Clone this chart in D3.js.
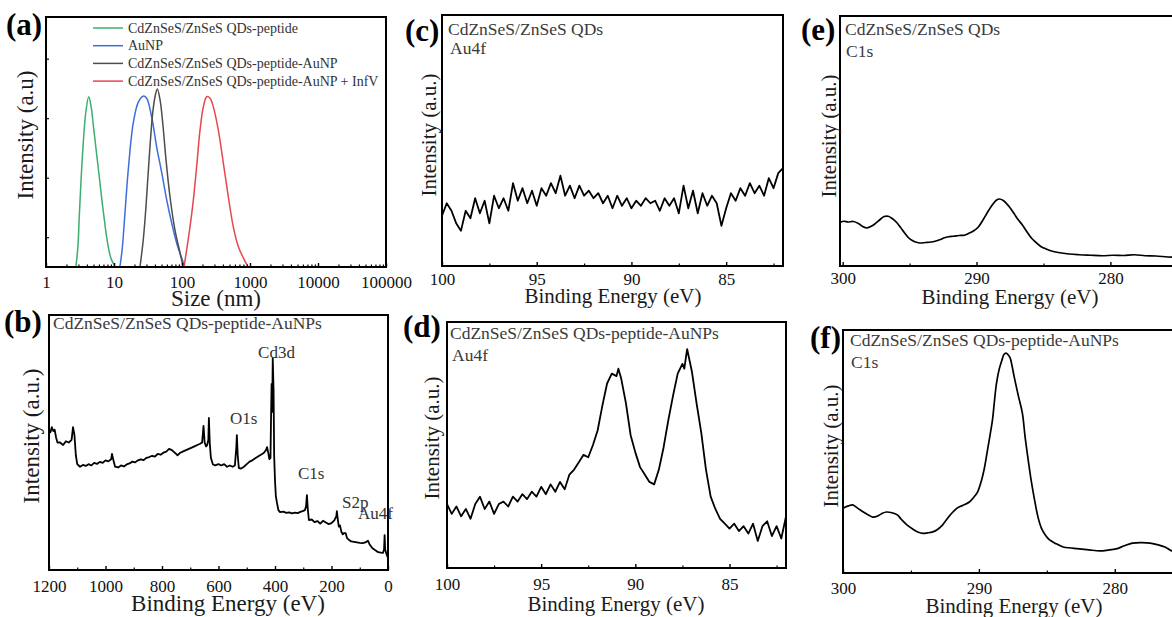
<!DOCTYPE html>
<html>
<head>
<meta charset="utf-8">
<script src="https://cdn.jsdelivr.net/npm/d3@7"></script>
<style>
  body { margin: 0; background: #fff; }
  svg { display: block; }
  svg text { font-family: "Liberation Serif", "Times New Roman", serif; }
</style>
</head>
<body>
<div id="fig"></div>
<script>
// ---- (a) DLS size distribution: [size (nm), intensity]
const dlsNames = ['CdZnSeS/ZnSeS QDs-peptide', 'AuNP', 'CdZnSeS/ZnSeS QDs-peptide-AuNP', 'CdZnSeS/ZnSeS QDs-peptide-AuNP + InfV'];
const dlsColors = ['#3dae70', '#3d6fdb', '#4d4d4d', '#e8454f'];
const dlsQD = [[2.75,0],[2.95,3.5],[3.1,9],[3.45,19],[3.85,26],[4.25,28.6],[4.6,27],[5.0,23.5],[5.55,19],[6.1,15],[6.6,11.5],[7.2,8],[7.8,5],[8.5,2.6],[9.2,1.2],[10.5,0]];
const dlsAu = [[12.2,0],[13.2,3],[14.5,9.1],[16.2,16.3],[19.2,24.2],[22.8,27.7],[26.9,28.7],[30.1,28.4],[35.8,25.2],[42.4,20.2],[50.4,15.8],[59.5,11.3],[70.5,7.4],[83.6,4],[98.9,1.5],[110,0]];
const dlsQDAu = [[24.1,0],[26.9,4.5],[29.5,10.1],[33,18.5],[37.1,25.9],[40.1,28.6],[43.3,29.9],[47.5,28.1],[52.1,24.2],[58.2,18],[66.6,11.8],[78.8,6.2],[93.5,2.4],[104,0]];
const dlsInfV = [[107,0],[123,4.5],[143,10.1],[164,16.8],[184,23],[206,26.9],[231,28.6],[257,28.4],[289,26.9],[342,23],[405,17.5],[480,11.8],[569,6.7],[675,3.4],[800,1.5],[941,0]];
const sizeTicks = [1, 10, 100, 1000, 10000, 100000];

// ---- (b) survey XPS: [binding energy (eV), intensity]
const survey = [[1200,55],[1195,54],[1190,56],[1185,54.5],[1180,55],[1175,52],[1170,50],[1161,50],[1150,49],[1140,50.5],[1130,50],[1120,51],[1115,56],[1110,53],[1105,45],[1100,41.5],[1090,40.5],[1080,41.2],[1070,40.8],[1060,41.5],[1050,41],[1040,42],[1030,41.6],[1020,42.4],[1010,42],[1000,43],[990,42.6],[980,43.4],[977,45.5],[972,43],[966,40.5],[955,40.2],[945,41],[935,40.6],[925,41.4],[915,41.8],[905,42.5],[895,42.2],[885,43],[875,43.4],[865,43.1],[855,44],[845,44.3],[835,44.8],[825,44.5],[815,45.5],[805,45.2],[795,46],[785,46.4],[775,47.5],[765,47],[755,46],[745,45],[735,46],[725,46.5],[715,47],[705,47.5],[695,48],[685,48.5],[675,49],[665,49.5],[658,50],[653,56.5],[649,50],[644,48.5],[640,49],[636,51],[634,59.6],[631,50],[627,44],[620,41.5],[612,41],[600,41.5],[590,41],[580,41.5],[570,40.5],[560,41],[550,40.5],[542,41],[537,48],[535,52.9],[532,45],[528,40],[520,39.8],[510,40.5],[500,41.5],[490,42.5],[480,43],[470,43.8],[460,44.5],[450,45.2],[440,45.9],[432,47],[428,48.2],[424,46],[420,43.5],[416,44],[414,60],[412,73],[410,62],[408,83],[405,70],[403,45],[400,35],[397,29],[393,26.3],[388,23.5],[382,22.7],[370,22.9],[360,22.4],[350,22.6],[340,22.2],[330,22.5],[320,22.3],[310,22.8],[300,23.2],[294,23.5],[290,25],[287,29.4],[284,24],[280,19.6],[270,19.8],[260,18.8],[250,19.2],[240,18.2],[230,19.3],[220,18.6],[210,18],[200,18.4],[190,19.5],[183,21],[181,23.1],[178,20],[174,17],[170,17.5],[165,15],[160,14],[155,14.5],[150,14.5],[145,12.5],[140,12],[130,11.2],[120,11],[110,10.8],[100,10.6],[90,10.5],[80,10.8],[71,11.5],[65,10],[55,8.5],[46,7.8],[35,7],[25,6.8],[18,6.7],[14,8],[12,13.7],[10,8],[6,6.5],[3,5.5],[0,4.7]];
const surveyTicks = [1200, 1000, 800, 600, 400, 200, 0];
const surveyMinor = [1100, 900, 700, 500, 300, 100];
const surveyPeaks = [
  { name: 'Cd3d', e: 460, v: 83 },
  { name: 'O1s', e: 559, v: 57.3 },
  { name: 'C1s', e: 319, v: 35.7 },
  { name: 'S2p', e: 163, v: 24.3 },
  { name: 'Au4f', e: 106, v: 20 }
];

// ---- (c) Au4f of bare QDs
const au4fQD = [[100,20],[99.75,25],[99.5,22],[99.25,17],[99,14],[98.75,22],[98.5,19],[98.25,27],[98,21],[97.75,26],[97.5,17],[97.25,28],[97,23],[96.75,27],[96.5,22],[96.25,33],[96,26],[95.75,31],[95.5,25],[95.25,30],[95,24],[94.75,31],[94.5,28],[94.25,33],[94,29],[93.75,36],[93.5,28],[93.25,32],[93,27],[92.75,32],[92.5,28],[92.25,30],[92,27],[91.75,29],[91.5,25],[91.25,28],[91,23],[90.75,28],[90.5,24],[90.25,27],[90,23],[89.75,26],[89.5,24],[89.25,27],[89,25],[88.75,26],[88.5,22],[88.25,27],[88,24],[87.75,27],[87.5,21],[87.25,32],[87,23],[86.75,30],[86.5,21],[86.25,29],[86,24],[85.75,28],[85.5,25],[85.25,16],[85,23],[84.75,29],[84.5,26],[84.25,31],[84,28],[83.75,33],[83.5,29],[83.25,32],[83,28],[82.75,35],[82.5,31],[82.25,37],[82,39]];

// ---- (d) Au4f of QDs-peptide-AuNPs
const au4fQDAu = [[100,26],[99.75,22],[99.5,25],[99.25,21],[99,24],[98.75,20],[98.5,26],[98.25,29],[98,24],[97.75,27],[97.5,22],[97.25,26],[97,27],[96.75,25],[96.5,29],[96.25,27],[96,30],[95.75,28],[95.5,31],[95.25,29],[95,33],[94.75,30],[94.5,34],[94.25,31],[94,35],[93.75,32],[93.5,38],[93.25,40],[93,43],[92.75,46],[92.5,45],[92.25,50],[92,56],[91.75,66],[91.5,75],[91.25,79],[91,78],[90.9,81],[90.75,77],[90.5,67],[90.25,54],[90,47],[89.75,41],[89.5,38],[89.25,35],[89,34],[88.75,40],[88.5,49],[88.25,60],[88,70],[87.75,79],[87.5,83],[87.4,81],[87.25,89],[87,80],[86.75,67],[86.5,55],[86.25,40],[86,29],[85.75,24],[85.5,20],[85.25,18],[85,16],[84.75,18],[84.5,15],[84.25,17],[84,14],[83.75,18],[83.5,11],[83.25,17],[83,19],[82.75,13],[82.5,17],[82.25,12],[82,21]];
const au4fTicks = [100, 95, 90, 85];
const au4fMinor = [97.5, 92.5, 87.5, 82.5];

// ---- (e) C1s of bare QDs
const c1sQD = [[300.2,17.4],[299.9,17.9],[299.6,17.6],[299.2,17.8],[298.8,16.9],[298.5,15.8],[298.2,15.2],[297.9,15.8],[297.6,16.8],[297.2,18.6],[296.9,19.8],[296.6,19.9],[296.3,19],[296,17.6],[295.7,15.6],[295.4,13.4],[295.1,11.4],[294.8,10.2],[294.5,9.5],[294.2,9.2],[293.8,9.4],[293.4,9.6],[293.1,9.9],[292.7,10.6],[292.4,11.3],[292.1,11.7],[291.7,11.9],[291.3,12.2],[290.9,12.3],[290.6,13],[290.3,13.8],[289.9,15.4],[289.5,18.6],[289.1,22.2],[288.8,24.6],[288.5,26.4],[288.3,26.8],[288,26.2],[287.6,24],[287.2,21],[286.9,18.6],[286.6,16.6],[286.2,13.4],[285.9,11.2],[285.6,9.6],[285.2,7.8],[284.8,6.8],[284.4,6],[283.9,5.4],[283.1,4.8],[282.3,4.5],[281.5,4.3],[280.6,4.1],[279.8,4.3],[279,4.2],[278.2,4.5],[277.4,4.1],[276.6,4],[275.7,3.6],[274.8,3.4]];

// ---- (f) C1s of QDs-peptide-AuNPs
const c1sQDAu = [[300,26.7],[299.6,27.6],[299.3,28],[298.9,26.6],[298.5,25.1],[298.1,23.8],[297.8,23],[297.4,23.6],[297.1,24.6],[296.8,25.1],[296.4,24.8],[296,23.9],[295.7,22],[295.3,19.8],[294.9,18.2],[294.5,16.9],[294.1,16.3],[293.8,16.5],[293.4,16.9],[293.1,17.7],[292.7,19.6],[292.4,21.8],[292,24.6],[291.6,26.7],[291.2,27.8],[290.7,29.2],[290.4,31],[290.1,33.3],[289.8,38.3],[289.6,43],[289.4,49.4],[289.2,56],[289,63],[288.85,71],[288.7,78.2],[288.5,84],[288.3,87.7],[288.15,90],[288,90.5],[287.85,89.8],[287.7,88.5],[287.55,85],[287.4,80.7],[287.1,73],[286.8,65.8],[286.6,56],[286.4,47.7],[286.15,38],[285.9,30],[285.65,23],[285.4,18.5],[285.1,15.5],[284.8,13.6],[284.3,12],[283.8,10.7],[283.2,10.3],[282.6,9.9],[281.9,9.5],[281.1,9.1],[280.5,9.4],[279.9,9.9],[279.3,11.2],[278.7,12.3],[278,12.5],[277.4,12.3],[276.8,11.6],[276.3,10.7],[275.8,9.1],[275.2,8.8]];
const c1sTicks = [300, 290, 280];
const c1sMinor = [295, 285];

const FONT = '"Liberation Serif", "Times New Roman", serif';
const svg = d3.select('#fig').append('svg')
  .attr('width', 1172)
  .attr('height', 617);

function drawPanel(p) {
  const [L, T, R, B] = p.box;
  const x = (p.log ? d3.scaleLog() : d3.scaleLinear()).domain(p.xDomain).range([L, R]);
  const y = d3.scaleLinear().domain(p.yDomain).range([B, T]);
  const g = svg.append('g');

  const clipId = 'clip-' + p.id;
  svg.append('clipPath').attr('id', clipId).append('rect')
    .attr('x', L).attr('y', T).attr('width', R - L).attr('height', B - T);

  const line = d3.line()
    .x(d => x(d[0]))
    .y(d => y(d[1]))
    .curve(p.curve || d3.curveLinear);

  p.series.forEach(s => {
    g.append('path')
      .datum(s.data)
      .attr('clip-path', `url(#${clipId})`)
      .attr('fill', 'none')
      .attr('stroke', s.color)
      .attr('stroke-width', s.width || 1.7)
      .attr('stroke-linejoin', 'round')
      .attr('d', line);
  });

  // bottom axis, ticks pointing inward
  const xa = g.append('g')
    .attr('transform', `translate(0,${B})`)
    .call(d3.axisBottom(x).tickValues(p.ticks).tickFormat(d3.format('d'))
      .tickSizeInner(-4).tickSizeOuter(0).tickPadding(p.pad));
  xa.select('.domain').remove();
  xa.attr('font-size', null).attr('font-family', null);
  xa.selectAll('text')
    .style('font-family', FONT)
    .style('font-size', '17px')
    .attr('fill', '#111');
  xa.selectAll('line').attr('stroke-width', 1.4);

  if (p.minor) {
    const xm = g.append('g')
      .attr('transform', `translate(0,${B})`)
      .call(d3.axisBottom(x).tickValues(p.minor).tickFormat('')
        .tickSizeInner(-2.5).tickSizeOuter(0));
    xm.select('.domain').remove();
    xm.selectAll('line').attr('stroke-width', 1.2);
  }

  if (p.yTicks) {
    const ya = g.append('g')
      .attr('transform', `translate(${L},0)`)
      .call(d3.axisLeft(y).tickValues(p.yTicks).tickFormat('')
        .tickSizeInner(-3).tickSizeOuter(0));
    ya.select('.domain').remove();
    ya.selectAll('line').attr('stroke-width', 1.2);
  }

  // frame
  g.append('rect')
    .attr('x', L).attr('y', T)
    .attr('width', R - L).attr('height', B - T)
    .attr('fill', 'none')
    .attr('stroke', '#000')
    .attr('stroke-width', 2);

  // titles
  g.append('text')
    .attr('x', p.xTitle[0]).attr('y', p.xTitle[1])
    .attr('text-anchor', 'middle')
    .attr('font-size', p.titleSize)
    .attr('fill', '#1a1a1a')
    .text(p.xLabel);

  g.append('text')
    .attr('transform', `translate(${p.yTitle[0]},${p.yTitle[1]}) rotate(-90)`)
    .attr('text-anchor', 'middle')
    .attr('font-size', p.titleSize)
    .attr('fill', '#1a1a1a')
    .text(p.yLabel);

  g.append('text')
    .attr('x', p.tag[0]).attr('y', p.tag[1])
    .attr('font-size', 31)
    .attr('font-weight', 'bold')
    .attr('fill', '#000')
    .text(p.tagText);

  (p.notes || []).forEach(n => {
    g.append('text')
      .attr('x', n[0]).attr('y', n[1])
      .attr('font-size', 17.5)
      .attr('fill', '#3a3a3a')
      .text(n[2]);
  });

  return { g, x, y };
}

// (a)
const pa = drawPanel({
  id: 'a', box: [46, 17, 386, 267], log: true,
  xDomain: [1, 100000], yDomain: [0, 42],
  ticks: sizeTicks,
  minor: d3.range(0, 5).flatMap(k => [2,3,4,5,6,7,8,9].map(m => m * Math.pow(10, k))),
  yTicks: [5, 15, 25, 35],
  pad: 9, curve: d3.curveCatmullRom,
  series: [dlsQD, dlsAu, dlsQDAu, dlsInfV].map((d, i) => ({ data: d, color: dlsColors[i], width: 1.5 })),
  xLabel: 'Size (nm)', xTitle: [216, 306],
  yLabel: 'Intensity (a.u)', yTitle: [33, 135], titleSize: 23,
  tag: [6, 35], tagText: '(a)'
});

// legend for (a)
const legend = pa.g.append('g');
dlsNames.forEach((name, i) => {
  const yy = 28 + i * 17.7;
  legend.append('line')
    .attr('x1', 93).attr('x2', 123).attr('y1', yy).attr('y2', yy)
    .attr('stroke', dlsColors[i]).attr('stroke-width', 1.5);
  legend.append('text')
    .attr('x', 128).attr('y', yy + 4.5)
    .attr('font-size', 14)
    .attr('fill', '#333')
    .text(name);
});

// (b)
const pb = drawPanel({
  id: 'b', box: [49, 315, 388, 570],
  xDomain: [1200, 0], yDomain: [0, 100],
  ticks: surveyTicks, minor: surveyMinor, pad: 10,
  series: [{ data: survey, color: '#000', width: 1.8 }],
  xLabel: 'Binding Energy (eV)', xTitle: [228, 611],
  yLabel: 'Intensity (a.u.)', yTitle: [39, 436], titleSize: 23,
  tag: [4, 332], tagText: '(b)',
  notes: [[53, 329, 'CdZnSeS/ZnSeS QDs-peptide-AuNPs']]
});
surveyPeaks.forEach(pk => {
  pb.g.append('text')
    .attr('x', pb.x(pk.e)).attr('y', pb.y(pk.v))
    .attr('font-size', 17)
    .attr('fill', '#333')
    .text(pk.name);
});

// (c)
drawPanel({
  id: 'c', box: [442, 15, 783, 266],
  xDomain: [100, 82], yDomain: [0, 100],
  ticks: au4fTicks, minor: au4fMinor, pad: 7,
  series: [{ data: au4fQD, color: '#000', width: 1.8 }],
  xLabel: 'Binding Energy (eV)', xTitle: [613, 303],
  yLabel: 'Intensity (a.u.)', yTitle: [436, 135], titleSize: 21,
  tag: [405, 41], tagText: '(c)',
  notes: [[448, 35, 'CdZnSeS/ZnSeS QDs'], [450, 54, 'Au4f']]
});

// (d)
drawPanel({
  id: 'd', box: [447, 322, 786, 568],
  xDomain: [100, 82], yDomain: [0, 100],
  ticks: au4fTicks, minor: au4fMinor, pad: 10,
  series: [{ data: au4fQDAu, color: '#000', width: 1.8 }],
  xLabel: 'Binding Energy (eV)', xTitle: [616, 611],
  yLabel: 'Intensity (a.u.)', yTitle: [439, 438], titleSize: 21,
  tag: [403, 337], tagText: '(d)',
  notes: [[450, 339, 'CdZnSeS/ZnSeS QDs-peptide-AuNPs'], [452, 361, 'Au4f']]
});

// (e)
drawPanel({
  id: 'e', box: [840, 16, 1180, 266],
  xDomain: [300.2, 274.8], yDomain: [0, 100],
  ticks: c1sTicks, minor: c1sMinor, pad: 6,
  curve: d3.curveCatmullRom,
  series: [{ data: c1sQD, color: '#000', width: 1.7 }],
  xLabel: 'Binding Energy (eV)', xTitle: [1010, 304],
  yLabel: 'Intensity (a.u.)', yTitle: [836, 136], titleSize: 21,
  tag: [801, 40], tagText: '(e)',
  notes: [[845, 35, 'CdZnSeS/ZnSeS QDs'], [846, 57, 'C1s']]
});

// (f)
drawPanel({
  id: 'f', box: [843, 330, 1180, 573],
  xDomain: [300, 275.2], yDomain: [0, 100],
  ticks: c1sTicks, minor: c1sMinor, pad: 9,
  curve: d3.curveCatmullRom,
  series: [{ data: c1sQDAu, color: '#000', width: 1.7 }],
  xLabel: 'Binding Energy (eV)', xTitle: [1014, 613],
  yLabel: 'Intensity (a.u.)', yTitle: [838, 446], titleSize: 21,
  tag: [810, 348], tagText: '(f)',
  notes: [[850, 346, 'CdZnSeS/ZnSeS QDs-peptide-AuNPs'], [851, 368, 'C1s']]
});
</script>
</body>
</html>
